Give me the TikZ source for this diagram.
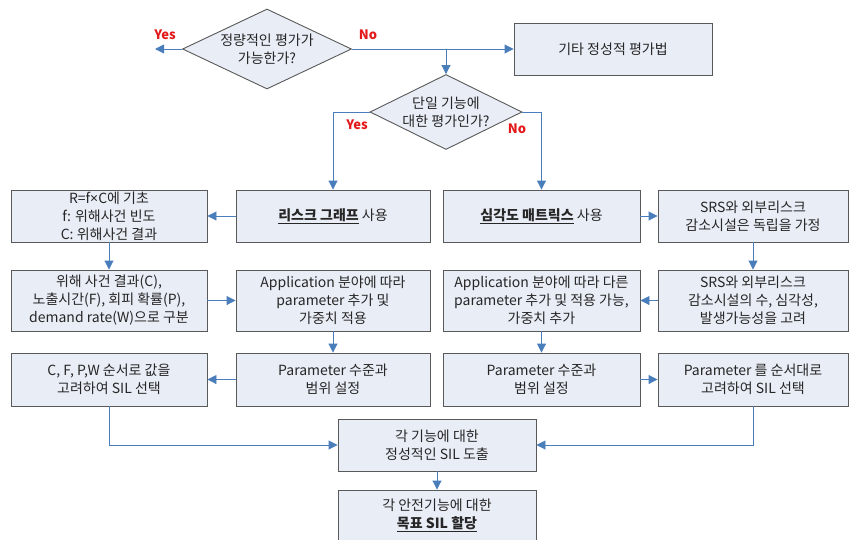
\documentclass[tikz,border=0pt]{standalone}
\usepackage{fontspec}
\setmainfont{Noto Sans CJK KR}
\newfontfamily\latinsans{Noto Sans}
\usetikzlibrary{shapes.geometric,arrows.meta}
\definecolor{boxfill}{HTML}{E9EDF6}
\definecolor{boxline}{HTML}{595959}
\definecolor{arrowblue}{HTML}{4A7EBB}
\definecolor{labred}{HTML}{E3191B}
\definecolor{txt}{HTML}{262626}
\tikzset{
  stepbox/.style={draw=boxline, fill=boxfill, line width=0.9pt, rectangle, align=center,
    text=txt, font=\fontsize{14}{18}\selectfont, inner sep=0pt},
  decide/.style={draw=boxline, fill=boxfill, line width=0.9pt, diamond, aspect=2.1, align=center,
    text=txt, font=\fontsize{14}{18}\selectfont, inner sep=-10pt},
  flow/.style={draw=arrowblue, line width=0.9pt, -{Triangle[length=9pt,width=9pt]}},
  yn/.style={text=labred, font=\fontsize{13}{15}\selectfont\bfseries, inner sep=0pt}
}
\begin{document}
\begin{tikzpicture}[x=1pt,y=-1pt]
\useasboundingbox (0,0) rectangle (849,539);
% diamonds
\node[decide, minimum width=169pt, minimum height=80pt] (d1) at (267,49) {정량적인 평가가\\가능한가?};
\node[decide, minimum width=152pt, minimum height=75pt] (d2) at (446,112) {단일 기능에\\대한 평가인가?};
\node[stepbox, minimum width=198pt, minimum height=52pt] (T) at (613,49) {기타 정성적 평가법};
% row 1
\node[stepbox, minimum width=196pt, minimum height=52pt] (A) at (109,216) {R=f{\latinsans ×}C에 기초\\f: 위해사건 빈도\\C: 위해사건 결과};
\node[stepbox, minimum width=194pt, minimum height=52pt] (B) at (333,216) {\underline{\textbf{리스크 그래프}} 사용};
\node[stepbox, minimum width=197pt, minimum height=52pt] (C) at (541.5,216) {\underline{\textbf{심각도 매트릭스}} 사용};
\node[stepbox, minimum width=190pt, minimum height=52pt] (D) at (753,216) {SRS와 외부리스크\\감소시설은 독립을 가정};
% row 2
\node[stepbox, minimum width=196pt, minimum height=61pt] (E) at (109,300.5) {위해 사건 결과(C),\\노출시간(F), 회피 확률(P),\\demand rate(W)으로 구분};
\node[stepbox, minimum width=194pt, minimum height=61pt] (F) at (333,300.5) {Application 분야에 따라\\parameter 추가 및\\가중치 적용};
\node[stepbox, minimum width=197pt, minimum height=61pt] (G) at (541.5,300.5) {Application 분야에 따라 다른\\parameter 추가 및 적용 가능,\\가중치 추가};
\node[stepbox, minimum width=190pt, minimum height=61pt] (H) at (753,300.5) {SRS와 외부리스크\\감소시설의 수, 심각성,\\발생가능성을 고려};
% row 3
\node[stepbox, minimum width=196pt, minimum height=53pt] (I) at (109,379.5) {C, F, P,W 순서로 값을\\고려하여 SIL 선택};
\node[stepbox, minimum width=194pt, minimum height=53pt] (J) at (333,379.5) {Parameter 수준과\\범위 설정};
\node[stepbox, minimum width=197pt, minimum height=53pt] (K) at (541.5,379.5) {Parameter 수준과\\범위 설정};
\node[stepbox, minimum width=190pt, minimum height=53pt] (L) at (753,379.5) {Parameter 를 순서대로\\고려하여 SIL 선택};
% bottom
\node[stepbox, minimum width=198pt, minimum height=52pt] (M) at (437,445) {각 기능에 대한\\정성적인 SIL 도출};
\node[stepbox, minimum width=198pt, minimum height=50pt] (N) at (437,515) {각 안전기능에 대한\\\underline{\textbf{목표 SIL 할당}}};
% connectors
\coordinate (yesend) at (155,49);
\coordinate (junc) at (446,49);
\draw[flow] (d1.west) -- (yesend);
\draw[flow] (d1.east) -- (T.west);
\draw[flow] (junc) -- (d2.north);
\draw[flow] (d2.west) -| (B.north);
\draw[flow] (d2.east) -| (C.north);
\draw[flow] (B.west) -- (A.east);
\draw[flow] (A.south) -- (E.north);
\draw[flow] (E.east) -- (F.west);
\draw[flow] (F.south) -- (J.north);
\draw[flow] (J.west) -- (I.east);
\draw[flow] (I.south) |- (M.west);
\draw[flow] (C.east) -- (D.west);
\draw[flow] (D.south) -- (H.north);
\draw[flow] (H.west) -- (G.east);
\draw[flow] (G.south) -- (K.north);
\draw[flow] (K.east) -- (L.west);
\draw[flow] (L.south) |- (M.east);
\draw[flow] (M.south) -- (N.north);
% labels
\node[yn] (yes1) at (165,35) {Yes};
\node[yn] (no1) at (368,35) {No};
\node[yn] (yes2) at (357,125) {Yes};
\node[yn] (no2) at (517,129) {No};
\end{tikzpicture}
\end{document}
